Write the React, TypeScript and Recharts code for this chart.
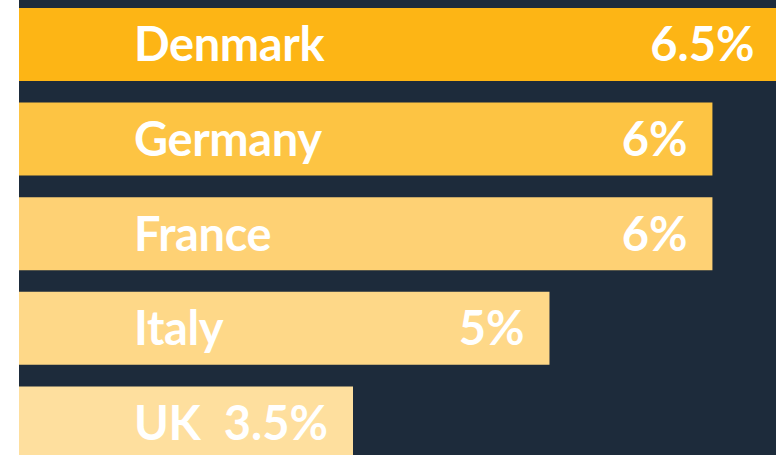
import React from "react";
import { Bar, BarChart, Cell, LabelList, XAxis, YAxis } from "recharts";

// values
const countries = ["Denmark", "Germany", "France", "Italy", "UK"];
const rates = [6.5, 6, 6, 5, 3.5];
// drawn bar lengths (the printed bars are not proportional to the rates)
const barLengths = [6.58, 6, 6, 4.59, 2.89];
const COLORS = ["#FDB515", "#FDC443", "#FED174", "#FED888", "#FEDF9E"];

const data = countries.map((country, i) => ({
  country,
  rate: rates[i],
  length: barLengths[i],
}));

const FONT = "Lato, 'Open Sans', sans-serif";

const NameLabel = (props: any) => {
  const { x, y, height, value } = props;
  return (
    <text
      x={x + 115}
      y={y + height / 2}
      dy="0.36em"
      fill="#ffffff"
      fontFamily={FONT}
      fontWeight={700}
      fontSize={47}
      letterSpacing={-0.4}
    >
      {value}
    </text>
  );
};

const RateLabel = (props: any) => {
  const { x, y, width, height, value } = props;
  return (
    <text
      x={x + width - 25}
      y={y + height / 2}
      dy="0.36em"
      textAnchor="end"
      fill="#ffffff"
      fontFamily={FONT}
      fontWeight={700}
      fontSize={47}
    >
      {`${value}%`}
    </text>
  );
};

export default function App() {
  return (
    <div style={{ position: "relative", width: 776, height: 455, overflow: "hidden", background: "#ffffff" }}>
      <style>{`body{margin:0;overflow:hidden}`}</style>
      <div style={{ position: "absolute", left: 19, top: 0, right: 0, bottom: 0, background: "#1D2B3B" }} />
      <div style={{ position: "absolute", left: 19, top: -3 }}>
        <BarChart
          width={809}
          height={473}
          data={data}
          layout="vertical"
          margin={{ top: 0, right: 0, bottom: 0, left: 0 }}
        >
          <XAxis type="number" domain={[0, 7]} hide />
          <YAxis type="category" dataKey="country" hide />
          <Bar dataKey="length" barSize={73} isAnimationActive={false}>
            {data.map((_, i) => (
              <Cell key={`cell-${i}`} fill={COLORS[i % COLORS.length]} />
            ))}
            <LabelList dataKey="country" content={NameLabel} />
            <LabelList dataKey="rate" content={RateLabel} />
          </Bar>
        </BarChart>
      </div>
    </div>
  );
}
